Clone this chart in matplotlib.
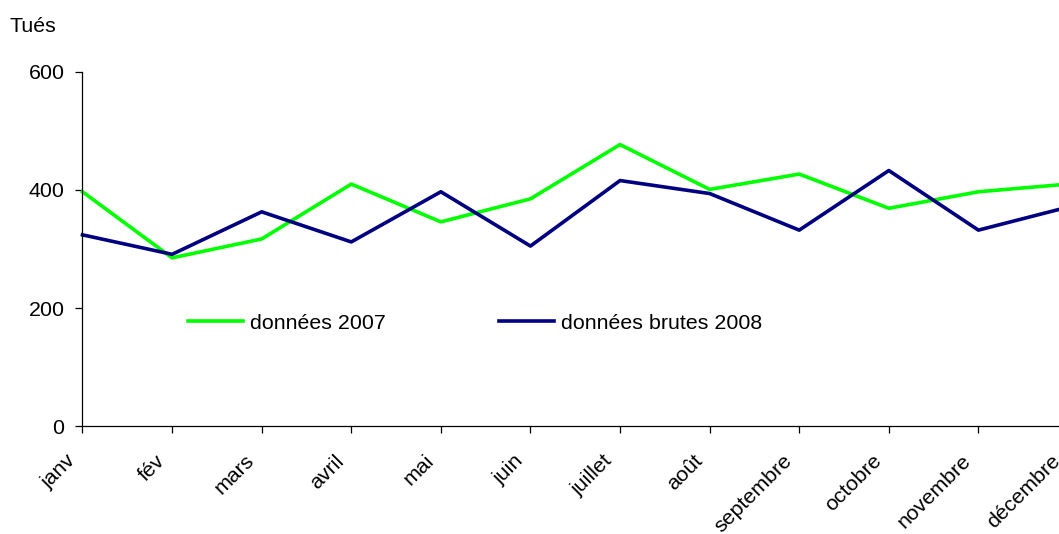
import matplotlib.pyplot as plt
from matplotlib.transforms import ScaledTranslation

plt.rcParams['font.family'] = ['Liberation Sans', 'DejaVu Sans']

# mois et nombre de tués
mois = ["janv", "fév", "mars", "avril", "mai", "juin", "juillet", "août",
        "septembre", "octobre", "novembre", "décembre"]
tues_2007 = [397, 285, 317, 410, 346, 385, 477, 401, 427, 369, 397, 410]
tues_2008 = [324, 291, 363, 312, 397, 305, 416, 394, 332, 433, 332, 371]
y_ticks = [0, 200, 400, 600]

fig = plt.figure(figsize=(10.59, 5.34), dpi=100)
ax = fig.add_axes([0.0779, 0.2022, 0.9306, 0.663])

x = range(len(mois))
ax.plot(x, tues_2007, color='#00FF00', lw=2.6, label="données 2007", clip_on=False)
ax.plot(x, tues_2008, color='#000080', lw=2.6, label="données brutes 2008", clip_on=False)

ax.set_xlim(0, len(mois) - 1)
ax.set_ylim(0, 600)
ax.set_yticks(y_ticks)
ax.set_xticks(list(x))
ax.set_xticklabels(mois, rotation=45, ha='right', va='top', rotation_mode='anchor')

for s in ['top', 'right']:
    ax.spines[s].set_visible(False)
for s in ['left', 'bottom']:
    ax.spines[s].set_linewidth(0.9)

ax.tick_params(axis='both', direction='out', length=5, width=0.9, labelsize=15.4)
ax.tick_params(axis='y', pad=8)
ax.tick_params(axis='x', pad=6)

# décalage des étiquettes de mois (vers la gauche et le bas), après tick_params
decal = ScaledTranslation(-0.17, -0.10, fig.dpi_scale_trans)
for lab in ax.get_xticklabels():
    lab.set_transform(lab.get_transform() + decal)

ax.legend(loc='center left', bbox_to_anchor=(0.107, 0.29), ncol=2, frameon=False,
          fontsize=15.4, handlelength=2.57, handletextpad=0.33, columnspacing=5.3,
          borderpad=0, borderaxespad=0)

fig.text(0.0085, 0.95, "Tués", fontsize=15.4, va='center', ha='left')

fig.savefig("out.png", dpi=100)
